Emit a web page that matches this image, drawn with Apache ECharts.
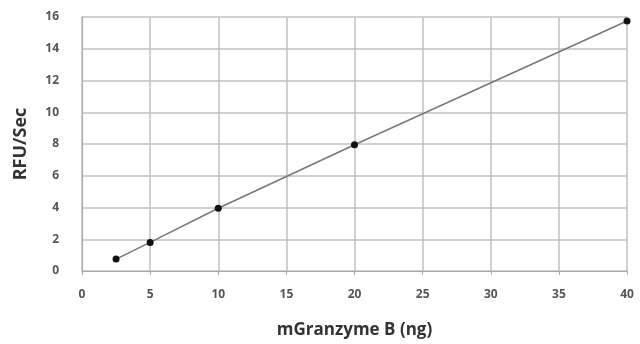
<!DOCTYPE html>
<html>
<head>
<meta charset="utf-8">
<script src="https://cdn.jsdelivr.net/npm/echarts@6/dist/echarts.min.js"></script>
<style>
html, body { margin: 0; padding: 0; background: #fff; }
#main { width: 640px; height: 344px; }
</style>
</head>
<body>
<div id="main"></div>
<script>
// 数据
var xValues = [2.5, 5, 10, 20, 40];
var yValues = [0.75, 1.8, 3.95, 7.95, 15.75];
var xTitle = 'mGranzyme B (ng)';
var yTitle = 'RFU/Sec';

var points = [];
for (var i = 0; i < xValues.length; i++) {
    points.push([xValues[i], yValues[i]]);
}

var myChart = echarts.init(document.getElementById('main'));
myChart.setOption({
    animation: false,
    grid: { left: 82, right: 13, top: 17, bottom: 71 },
    xAxis: {
        type: 'value',
        min: 0, max: 40, interval: 5,
        name: xTitle,
        nameLocation: 'middle',
        nameGap: 51,
        nameTextStyle: { fontFamily: 'Open Sans', fontWeight: 'bold', fontSize: 17, color: '#333' },
        axisLine: { lineStyle: { color: '#aaa' } },
        axisTick: { show: true, length: 4, lineStyle: { color: '#aaa' } },
        axisLabel: { fontFamily: 'Open Sans', fontWeight: 'bold', fontSize: 12, color: '#555', margin: 18 },
        splitLine: { lineStyle: { color: '#c0c0c0', width: 1.5 } }
    },
    yAxis: {
        type: 'value',
        min: 0, max: 16, interval: 2,
        name: yTitle,
        nameLocation: 'middle',
        nameGap: 52,
        nameTextStyle: { fontFamily: 'Open Sans', fontWeight: 'bold', fontSize: 18, color: '#333' },
        axisLine: { show: true, lineStyle: { color: '#aaa' } },
        axisTick: { show: false },
        axisLabel: { fontFamily: 'Open Sans', fontWeight: 'bold', fontSize: 12, color: '#555', margin: 23 },
        splitLine: { lineStyle: { color: '#c0c0c0', width: 1.5 } }
    },
    series: [{
        type: 'line',
        data: points,
        symbol: 'circle',
        symbolSize: 7,
        itemStyle: { color: '#111' },
        lineStyle: { color: '#777', width: 1.5 }
    }]
});

window.addEventListener('resize', function () { myChart.resize(); });
</script>
</body>
</html>
